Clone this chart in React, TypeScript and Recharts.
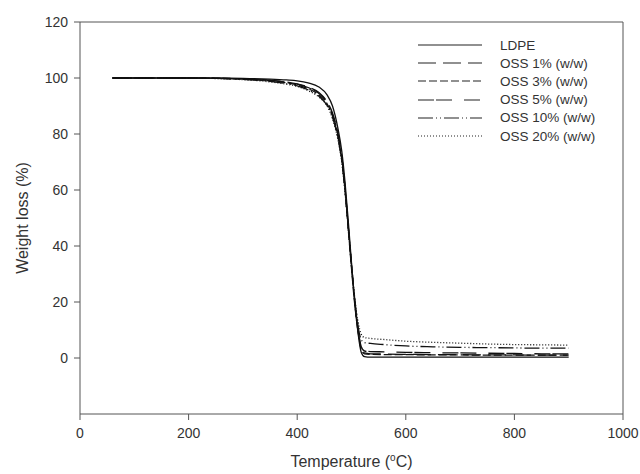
import {
  Line,
  LineChart,
  ReferenceLine,
  XAxis,
  YAxis
} from "recharts";

const temps = [
  60, 100, 150, 200, 250, 300, 350, 380, 400, 420, 440, 455, 465, 475, 482,
  488, 494, 500, 506, 512, 518, 524, 535, 560, 600, 650, 700, 750, 800, 850,
  900
];

const ldpe = [
  100, 100, 100, 100, 100, 99.9, 99.6, 99.3, 99, 98.3, 96.8, 94, 90, 82, 74,
  63, 49, 34, 20, 9, 2, 0.5, 0.3, 0.3, 0.3, 0.3, 0.3, 0.3, 0.3, 0.3, 0.3
];
const oss1 = [
  100, 100, 100, 100, 99.9, 99.7, 99.2, 98.6, 97.9, 96.8, 94.8, 91.5, 87.5, 80,
  72, 61, 47, 33, 20, 10, 3.5, 1.8, 1.5, 1.4, 1.3, 1.2, 1.2, 1.1, 1.1, 1.0, 1.0
];
const oss3 = [
  100, 100, 100, 100, 99.9, 99.6, 99, 98.3, 97.5, 96.2, 94, 90.8, 86.5, 79, 71,
  60, 46, 32, 19, 9.5, 3, 1.5, 1.3, 1.2, 1.2, 1.1, 1.1, 1.0, 1.0, 1.0, 1.0
];
const oss5 = [
  100, 100, 100, 100, 99.9, 99.6, 99.1, 98.5, 97.8, 96.6, 94.5, 91.2, 87, 80,
  72, 61, 47, 33, 20, 10.5, 4, 2.5, 2.3, 2.2, 2.0, 1.9, 1.8, 1.7, 1.6, 1.5, 1.5
];
const oss10 = [
  100, 100, 100, 100, 99.9, 99.5, 98.8, 98, 97.2, 95.8, 93.5, 90.2, 86, 78.5,
  70.5, 60, 46.5, 33, 21, 11.5, 6.5, 5.5, 5.2, 4.8, 4.3, 4, 3.8, 3.7, 3.6, 3.5,
  3.5
];
const oss20 = [
  100, 100, 100, 100, 99.8, 99.4, 98.6, 97.8, 97, 95.5, 93.2, 90, 85.5, 78, 70,
  59.5, 46.5, 33.5, 21.5, 13, 8.5, 7.3, 7, 6.6, 6, 5.6, 5.3, 5, 4.8, 4.7, 4.6
];

const xTicks = [0, 200, 400, 600, 800, 1000];
const yTicks = [0, 20, 40, 60, 80, 100, 120];

const series = [
  { key: "ldpe", name: "LDPE", values: ldpe, dash: undefined },
  { key: "oss1", name: "OSS 1% (w/w)", values: oss1, dash: "18 7" },
  { key: "oss3", name: "OSS 3% (w/w)", values: oss3, dash: "8 3" },
  { key: "oss5", name: "OSS 5% (w/w)", values: oss5, dash: "16 2 16 12" },
  { key: "oss10", name: "OSS 10% (w/w)", values: oss10, dash: "15 3 1 3 1 3" },
  { key: "oss20", name: "OSS 20% (w/w)", values: oss20, dash: "1 2" }
];

const data = temps.map((t, i) => {
  const row: Record<string, number> = { temp: t };
  series.forEach((s) => {
    row[s.key] = s.values[i];
  });
  return row;
});

const font = "'Liberation Sans', Arial, sans-serif";
const axisColor = "#555";
const textColor = "#333";

// legend sits on top of the plot, drawn outside recharts so it doesn't eat plot height
function LegendBox() {
  return (
    <div
      style={{
        position: "absolute",
        left: 418,
        top: 36,
        fontFamily: font,
        fontSize: 13.5,
        color: textColor
      }}
    >
      {series.map((s) => (
        <div
          key={s.key}
          style={{ display: "flex", alignItems: "center", height: 18.2 }}
        >
          <svg width={64} height={8} style={{ marginRight: 18 }}>
            <line
              x1={0}
              y1={4}
              x2={64}
              y2={4}
              stroke="#222"
              strokeWidth={1.1}
              strokeDasharray={s.dash}
            />
          </svg>
          <span>{s.name}</span>
        </div>
      ))}
    </div>
  );
}

function XTitle(props: any) {
  const { viewBox } = props;
  const cx = viewBox.x + viewBox.width / 2;
  return (
    <text
      x={cx}
      y={467}
      textAnchor="middle"
      fontFamily={font}
      fontSize={16}
      fill={textColor}
    >
      <tspan>Temperature (</tspan>
      <tspan dy={-6} fontSize={10}>
        o
      </tspan>
      <tspan dy={6}>C)</tspan>
    </text>
  );
}

export default function App() {
  return (
    <div
      style={{
        position: "absolute",
        left: 0,
        top: 0,
        width: 640,
        height: 474,
        background: "#fff"
      }}
    >
      <LineChart
        width={640}
        height={474}
        data={data}
        margin={{ top: 22, right: 17, bottom: 20, left: 40 }}
      >
        <XAxis
          dataKey="temp"
          type="number"
          domain={[0, 1000]}
          ticks={xTicks}
          tickSize={6}
          tickMargin={8}
          height={40}
          stroke={axisColor}
          tick={{ fontSize: 14, fill: textColor, fontFamily: font }}
          label={<XTitle />}
        />
        <YAxis
          type="number"
          domain={[-20, 120]}
          ticks={yTicks}
          tickSize={6}
          tickMargin={6}
          width={40}
          stroke={axisColor}
          tick={{ fontSize: 14, fill: textColor, fontFamily: font }}
          label={{
            value: "Weight loss (%)",
            angle: -90,
            position: "insideLeft",
            offset: -18,
            style: {
              textAnchor: "middle",
              fontSize: 16,
              fill: textColor,
              fontFamily: font
            }
          }}
        />
        <ReferenceLine y={120} stroke={axisColor} />
        <ReferenceLine x={1000} stroke={axisColor} />
        {series.map((s) => (
          <Line
            key={s.key}
            dataKey={s.key}
            name={s.name}
            type="monotone"
            stroke="#111"
            strokeWidth={1.3}
            strokeDasharray={s.dash}
            dot={false}
            isAnimationActive={false}
          />
        ))}
      </LineChart>
      <LegendBox />
    </div>
  );
}
